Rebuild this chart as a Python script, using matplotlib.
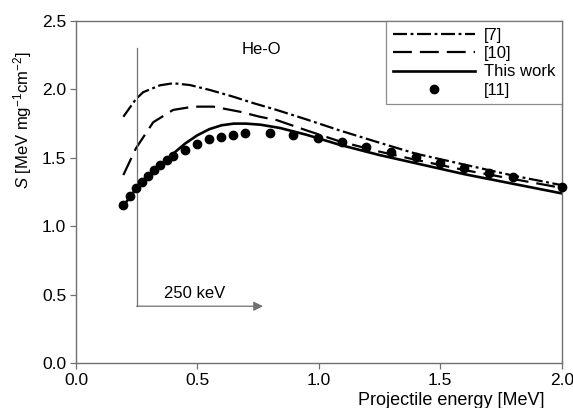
import matplotlib
matplotlib.use("Agg")
import matplotlib.pyplot as plt
import numpy as np

plt.rcParams['font.family'] = ['Liberation Sans', 'DejaVu Sans']
plt.rcParams['mathtext.fontset'] = 'custom'
plt.rcParams['mathtext.rm'] = 'Liberation Sans'
plt.rcParams['mathtext.it'] = 'Liberation Sans:italic'
plt.rcParams['mathtext.bf'] = 'Liberation Sans:bold'

# Data
ref7_x = [0.195, 0.247, 0.277, 0.346, 0.40, 0.469, 0.551, 0.647, 0.73, 0.826, 0.95, 1.086, 1.25, 1.40, 1.6, 1.8, 2.0]
ref7_y = [1.80, 1.93, 1.98, 2.03, 2.045, 2.032, 1.996, 1.947, 1.90, 1.85, 1.78, 1.70, 1.61, 1.53, 1.45, 1.37, 1.30]

ref10_x = [0.195, 0.247, 0.318, 0.40, 0.483, 0.565, 0.675, 0.757, 0.826, 0.95, 1.086, 1.25, 1.387, 1.6, 1.8, 2.0]
ref10_y = [1.374, 1.57, 1.76, 1.85, 1.874, 1.874, 1.837, 1.80, 1.776, 1.70, 1.62, 1.545, 1.49, 1.41, 1.345, 1.28]

this_x = [0.20, 0.25, 0.30, 0.35, 0.40, 0.45, 0.50, 0.55, 0.60, 0.65, 0.70, 0.76, 0.84, 0.95, 1.086, 1.25, 1.40, 1.6, 1.8, 2.0]
this_y = [1.16, 1.28, 1.37, 1.45, 1.53, 1.605, 1.665, 1.71, 1.738, 1.75, 1.75, 1.742, 1.718, 1.668, 1.595, 1.52, 1.46, 1.38, 1.31, 1.24]

ref11_x = [0.195, 0.222, 0.247, 0.273, 0.298, 0.322, 0.348, 0.373, 0.398, 0.449, 0.497, 0.547, 0.597, 0.647,
           0.697, 0.798, 0.894, 0.997, 1.097, 1.196, 1.299, 1.398, 1.498, 1.598, 1.70, 1.80, 2.0]
ref11_y = [1.155, 1.22, 1.277, 1.325, 1.37, 1.41, 1.447, 1.484, 1.513, 1.56, 1.60, 1.635, 1.654, 1.667,
           1.679, 1.68, 1.667, 1.642, 1.613, 1.577, 1.54, 1.505, 1.46, 1.423, 1.39, 1.357, 1.284]

x_ticks = [0.0, 0.5, 1.0, 1.5, 2.0]
y_ticks = [0.0, 0.5, 1.0, 1.5, 2.0, 2.5]

fig = plt.figure(figsize=(5.73, 4.08), dpi=100)
ax = fig.add_axes([0.1326, 0.1103, 0.8477, 0.8382])

lw = 1.6
l7, = ax.plot(ref7_x, ref7_y, color='black', lw=lw, dashes=(6.3, 1.6, 1.3, 1.6), label='[7]')
l10, = ax.plot(ref10_x, ref10_y, color='black', lw=lw, dashes=(8.5, 3.6), label='[10]')
lt, = ax.plot(this_x, this_y, color='black', lw=1.9, label='This work')
l11, = ax.plot(ref11_x, ref11_y, 'o', color='black', ms=6, label='[11]', clip_on=False, zorder=5)

gray = '#707070'
ax.plot([0.25, 0.25], [0.415, 2.30], color=gray, lw=0.9)
ax.annotate('', xy=(0.77, 0.415), xytext=(0.25, 0.415),
            arrowprops=dict(arrowstyle='-|>', color=gray, lw=0.9, mutation_scale=14,
                            shrinkA=0, shrinkB=0, facecolor='#bbbbbb'))
ax.text(0.49, 0.51, '250 keV', fontsize=12, ha='center', va='center')
ax.text(0.765, 2.29, 'He-O', fontsize=12, ha='center', va='center')

ax.set_xlim(0, 2.0)
ax.set_ylim(0, 2.5)
ax.set_xticks(x_ticks)
ax.set_yticks(y_ticks)
ax.set_xticklabels([f'{v:.1f}' for v in x_ticks])
ax.set_yticklabels([f'{v:.1f}' for v in y_ticks])
ax.tick_params(direction='out', length=4, width=0.9, color=gray, labelsize=12.5, pad=3)
for s in ax.spines.values():
    s.set_color(gray)
    s.set_linewidth(1.0)

ax.set_ylabel(r'$S$ [MeV mg$^{-1}$cm$^{-2}$]', fontsize=12)
ax.yaxis.set_label_coords(-0.087, 0.71)
ax.set_xlabel('Projectile energy [MeV]', fontsize=13)
ax.xaxis.set_label_coords(0.772, -0.085)

leg = ax.legend(handles=[l7, l10, lt, l11], loc='upper right', bbox_to_anchor=(1.0, 1.0),
                fontsize=12, frameon=True, fancybox=False, handlelength=4.9, handletextpad=0.55,
                labelspacing=0.2, borderpad=0.4, borderaxespad=0, numpoints=1)
leg.get_frame().set_edgecolor(gray)
leg.get_frame().set_linewidth(0.9)

fig.savefig('out.png', dpi=100)
